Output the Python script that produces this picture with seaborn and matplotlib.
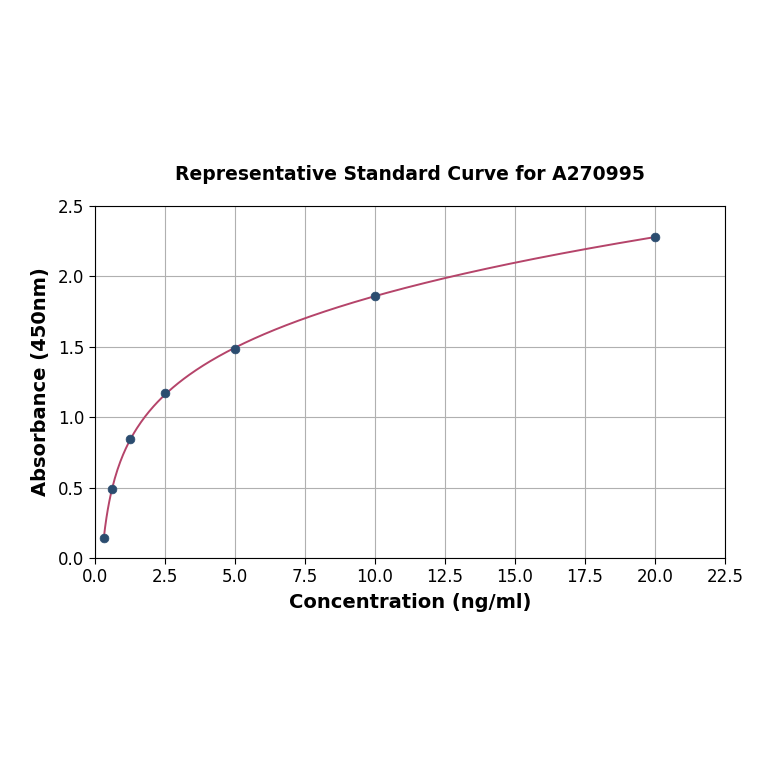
import numpy as np
import pandas as pd
import matplotlib
matplotlib.use("Agg")
import matplotlib.pyplot as plt
import seaborn as sns

concentration = [0.3125, 0.625, 1.25, 2.5, 5.0, 10.0, 20.0]
absorbance = [0.142, 0.490, 0.845, 1.170, 1.482, 1.862, 2.280]
x_ticks = [0.0, 2.5, 5.0, 7.5, 10.0, 12.5, 15.0, 17.5, 20.0, 22.5]
y_ticks = [0.0, 0.5, 1.0, 1.5, 2.0, 2.5]

sns.set_style("whitegrid")
plt.rcParams['font.family'] = ['DejaVu Sans']
plt.rcParams['text.color'] = 'black'
plt.rcParams['axes.labelcolor'] = 'black'
plt.rcParams['xtick.color'] = 'black'
plt.rcParams['ytick.color'] = 'black'

fig = plt.figure(figsize=(7.64, 7.64), dpi=100)
ax = fig.add_axes([0.1243, 0.2696, 0.8247, 0.4608])

# fitted curve (cubic in log concentration, fitted to the standards)
df = pd.DataFrame({"conc": concentration, "abs": absorbance})
coef = np.polyfit(np.log(df["conc"]), df["abs"], 3)
xs = np.linspace(min(concentration), max(concentration), 400)
fit = pd.DataFrame({"conc": xs, "abs": np.polyval(coef, np.log(xs))})

sns.lineplot(data=fit, x="conc", y="abs", ax=ax, color="#b5446a", linewidth=1.4, zorder=2)
sns.scatterplot(data=df, x="conc", y="abs", ax=ax, color="#2b4c6f", s=40, edgecolor="#2b4c6f", zorder=3)

ax.set_xlim(0, 22.5)
ax.set_ylim(0, 2.5)
ax.set_xticks(x_ticks)
ax.set_yticks(y_ticks)
ax.set_xticklabels([f"{v:.1f}" for v in x_ticks])
ax.set_yticklabels([f"{v:.1f}" for v in y_ticks])
ax.tick_params(axis="both", labelsize=12, length=4, color="black", labelcolor="black", left=True, bottom=True)
ax.grid(True, color="#b0b0b0", linewidth=0.8)
for s in ax.spines.values():
    s.set_color("black")
    s.set_linewidth(0.8)

ax.set_xlabel("Concentration (ng/ml)", fontsize=14, fontweight="bold", labelpad=5, color="black")
ax.set_ylabel("Absorbance (450nm)", fontsize=14, fontweight="bold", labelpad=6, color="black")
ax.set_title("Representative Standard Curve for A270995", fontsize=13.5, fontweight="bold", pad=19, color="black")

fig.savefig("out.png", dpi=100)
